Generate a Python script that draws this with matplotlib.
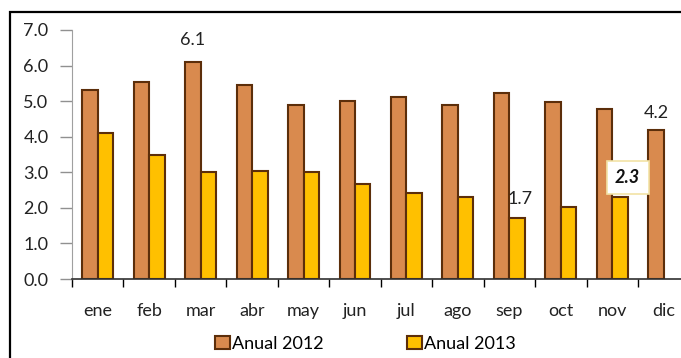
import matplotlib
matplotlib.use('Agg')

import numpy as np
import matplotlib.pyplot as plt
from matplotlib.patches import Rectangle

plt.rcParams['font.family'] = ['Lato', 'DejaVu Sans']

meses = ['ene', 'feb', 'mar', 'abr', 'may', 'jun', 'jul', 'ago', 'sep', 'oct', 'nov', 'dic']
anual_2012 = [5.3, 5.55, 6.1, 5.45, 4.88, 5.0, 5.12, 4.88, 5.22, 4.97, 4.78, 4.2]
anual_2013 = [4.1, 3.5, 3.0, 3.05, 3.0, 2.68, 2.42, 2.3, 1.72, 2.03, 2.3, np.nan]

c_2012 = '#D98A4E'
c_2013 = '#FFC000'
borde = '#5C2E0A'
fs = 13

fig = plt.figure(figsize=(6.81, 3.58), dpi=100)
# marco negro de la figura (recortado a la derecha y abajo)
fig.patches.append(Rectangle((10 / 681, -0.1), 1.2, (358 - 12) / 358 + 0.1,
                             transform=fig.transFigure, fill=False,
                             edgecolor='black', linewidth=1.6))

ax = fig.add_axes([72 / 681, 79 / 358, (689.5 - 72) / 681, 249 / 358])
x = np.arange(len(meses))
w = 0.3
ax.bar(x - w / 2, anual_2012, w, color=c_2012, edgecolor=borde, linewidth=1.5, label='Anual 2012')
ax.bar(x + w / 2, anual_2013, w, color=c_2013, edgecolor=borde, linewidth=1.5, label='Anual 2013')

ax.set_xlim(-0.5, 11.5)
ax.set_ylim(0, 7)
ax.set_yticks(np.arange(0, 7.5, 1.0))
ax.set_yticklabels([f'{v:.1f}' for v in np.arange(0, 7.5, 1.0)], fontsize=fs, color='#222222')
ax.set_xticks(np.arange(-0.5, 12, 1), minor=False)
ax.set_xticklabels([])
ax.set_xticks(x, minor=True)
ax.set_xticklabels(meses, minor=True, fontsize=fs, color='#222222')
ax.tick_params(axis='x', which='major', length=6, width=1, color='black', direction='out')
ax.tick_params(axis='x', which='minor', length=0, pad=17)
ax.tick_params(axis='y', length=9, width=1, color='#909090', pad=8)

for s in ['top', 'right']:
    ax.spines[s].set_visible(False)
ax.spines['left'].set_color('#A0A0A0')
ax.spines['bottom'].set_color('#303030')
ax.spines['bottom'].set_linewidth(1.2)

# etiquetas de datos
ax.text(2 - w / 2, anual_2012[2] + 0.4, '6.1', ha='center', va='bottom', fontsize=fs, color='#222222')
ax.text(11 - w / 2, anual_2012[11] + 0.25, '4.2', ha='center', va='bottom', fontsize=fs, color='#222222')
ax.text(8 + w / 2 + 0.05, anual_2013[8] + 0.3, '1.7', ha='center', va='bottom', fontsize=fs, color='#222222')
ax.text(10 + w / 2 + 0.15, anual_2013[10] + 0.55, '2.3', ha='center', va='center', fontsize=fs,
        fontweight='bold', fontstyle='italic', color='#111111',
        bbox=dict(boxstyle='square,pad=0.45', facecolor='white', edgecolor='#F2E3A6', linewidth=1.2))

leg = fig.legend(loc='lower center', bbox_to_anchor=(0.537, -0.028), ncol=2, frameon=False,
                 fontsize=fs, handlelength=0.8, handleheight=0.8, handletextpad=0.15,
                 columnspacing=4.6)

fig.savefig('out.png', dpi=100)
